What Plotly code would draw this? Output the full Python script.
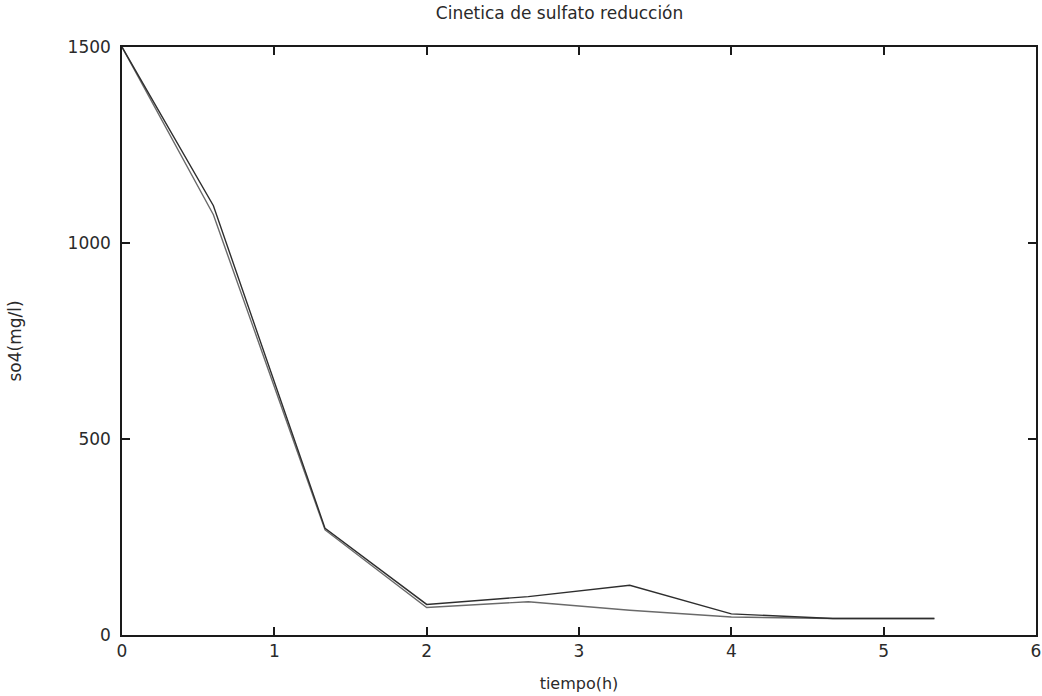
import plotly.graph_objects as go

tiempo = [0, 0.6, 1.333, 2, 2.667, 3.333, 4, 4.667, 5.333]
so4_a = [1500, 1095, 272, 78, 98, 127, 54, 42, 42]
so4_b = [1500, 1072, 268, 70, 85, 63, 46, 42, 42]

x_ticks = [0, 1, 2, 3, 4, 5, 6]
y_ticks = [0, 500, 1000, 1500]

fig = go.Figure()
fig.add_trace(go.Scatter(x=tiempo, y=so4_b, mode="lines",
                         line=dict(color="#6a6a6a", width=1.4), showlegend=False))
fig.add_trace(go.Scatter(x=tiempo, y=so4_a, mode="lines",
                         line=dict(color="#2e2e2e", width=1.4), showlegend=False))

family = "DejaVu Sans, Liberation Sans, sans-serif"
font = dict(family=family, size=16, color="#2a2a2a")
title_font = dict(family=family, size=17, color="#2a2a2a")
tick_font = dict(family=family, size=17, color="#2a2a2a")
axis_common = dict(showline=True, linecolor="#1a1a1a", linewidth=1.5, mirror="ticks",
                   ticks="inside", ticklen=8, tickcolor="#1a1a1a", tickwidth=1.5,
                   showgrid=False, zeroline=False, tickfont=tick_font,
                   ticklabeloverflow="allow")

fig.update_layout(
    width=1042, height=696,
    margin=dict(l=122, r=6, t=47, b=61, autoexpand=False),
    paper_bgcolor="white", plot_bgcolor="white",
    title=dict(text="Cinetica de sulfato reducción", x=0.537, xanchor="center",
               y=1 - 13 / 696, yanchor="middle", font=title_font),
    xaxis=dict(range=[0, 6], tickvals=x_ticks, ticktext=[str(v) for v in x_ticks],
               title=dict(text="tiempo(h)", font=font, standoff=18), **axis_common),
    yaxis=dict(range=[0, 1500], tickvals=y_ticks, ticktext=[str(v) for v in y_ticks],
               ticklabelstandoff=6,
               title=dict(text="so4(mg/l)", font=title_font, standoff=42), **axis_common),
)

fig.write_html("out.html",
               config={"displayModeBar": False},
               post_script="document.body.style.margin='0';document.body.style.overflow='hidden';")
